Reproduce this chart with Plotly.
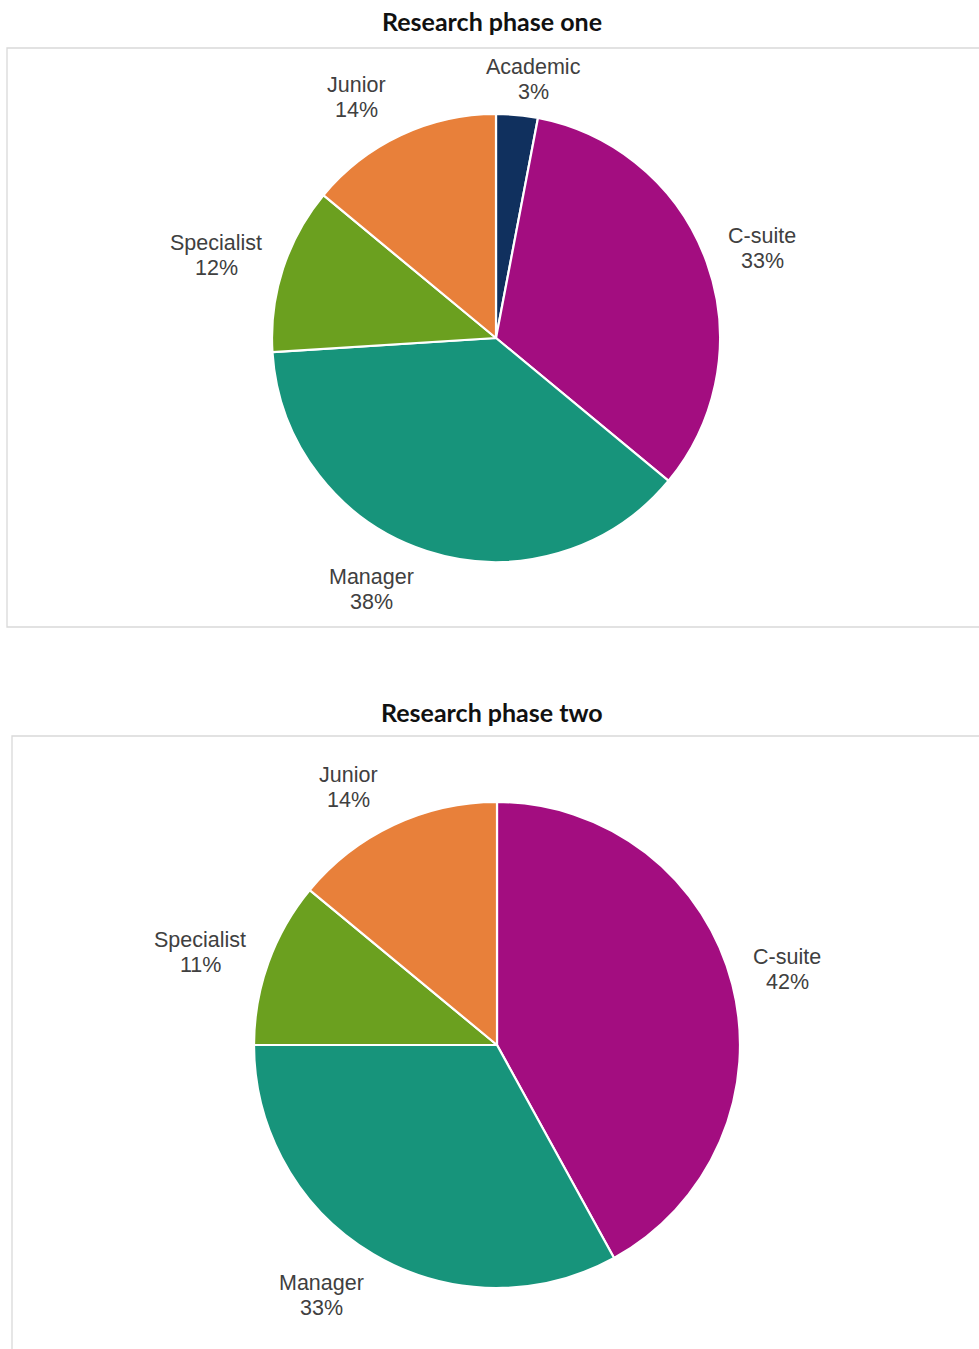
import math
import plotly.graph_objects as go

# Respondent profile by seniority, two research phases
phase_one_labels = ["Academic", "C-suite", "Manager", "Specialist", "Junior"]
phase_one_values = [3, 33, 38, 12, 14]

phase_two_labels = ["C-suite", "Manager", "Specialist", "Junior"]
phase_two_values = [42, 33, 11, 14]

titles = ["Research phase one", "Research phase two"]

W, H = 979, 1349

colors = {
    "Academic": "#10305e",
    "C-suite": "#a30d80",
    "Manager": "#17947b",
    "Specialist": "#6ba01f",
    "Junior": "#e8803a",
}

# pie geometry in pixels: centre and radius
pies = [
    dict(cx=496, cy=338, r=224),
    dict(cx=497, cy=1045, r=243),
]

# pixel nudges applied to each outside label (x right, y down)
nudges = [
    {"Academic": (12, 14), "C-suite": (9, 3), "Manager": (-40, -8),
     "Specialist": (-20, 2), "Junior": (-23, 7)},
    {"C-suite": (3, -2), "Manager": (-25, -5),
     "Specialist": (-18, 8), "Junior": (-22, 11)},
]

LINE_GAP = 25  # px between the category line and the percentage line
label_font = dict(family="Liberation Sans", size=21.5, color="#404040")

fig = go.Figure()
annotations = []
shapes = []

boxes = [(7, 48, 990, 627), (12, 736, 990, 1360)]
title_y = [21, 712]

for idx, (labels, values) in enumerate([(phase_one_labels, phase_one_values),
                                        (phase_two_labels, phase_two_values)]):
    g = pies[idx]
    x0, y0, x1, y1 = boxes[idx]
    shapes.append(dict(type="rect", xref="paper", yref="paper",
                       x0=x0 / W, x1=x1 / W, y0=1 - y1 / H, y1=1 - y0 / H,
                       line=dict(color="#d9d9d9", width=1.3),
                       fillcolor="rgba(0,0,0,0)", layer="below"))
    annotations.append(dict(text="<b>" + titles[idx] + "</b>", xref="paper", yref="paper",
                            x=492 / W, y=1 - title_y[idx] / H, showarrow=False,
                            xanchor="center", yanchor="middle",
                            font=dict(family="Lato", size=25, color="#111111")))
    fig.add_trace(go.Pie(
        labels=labels, values=values, sort=False, direction="clockwise",
        rotation=0, textinfo="none", hoverinfo="label+percent",
        marker=dict(colors=[colors[l] for l in labels],
                    line=dict(color="white", width=2.2)),
        domain=dict(x=[(g["cx"] - g["r"]) / W, (g["cx"] + g["r"]) / W],
                    y=[1 - (g["cy"] + g["r"]) / H, 1 - (g["cy"] - g["r"]) / H]),
        showlegend=False,
    ))
    total = sum(values)
    cum = 0
    d = 1.22 * g["r"]
    for lab, v in zip(labels, values):
        mid = (cum + v / 2) / total * 2 * math.pi
        cum += v
        px = g["cx"] + d * math.sin(mid)
        py = g["cy"] - d * math.cos(mid)
        nx, ny = nudges[idx][lab]
        pct = round(v / total * 100)
        for line, dy in ((lab, -LINE_GAP / 2), (f"{pct}%", LINE_GAP / 2)):
            annotations.append(dict(
                text=line, xref="paper", yref="paper",
                x=(px + nx) / W, y=1 - (py + ny + dy) / H, showarrow=False,
                xanchor="center", yanchor="middle", align="center",
                font=label_font,
            ))

fig.update_layout(
    width=W, height=H, margin=dict(l=0, r=0, t=0, b=0),
    paper_bgcolor="white", plot_bgcolor="white",
    annotations=annotations, shapes=shapes,
)

fig.write_html("out.html")
